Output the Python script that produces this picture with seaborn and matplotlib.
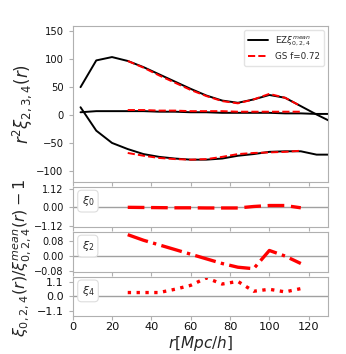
import numpy as np
import pandas as pd
import matplotlib
matplotlib.use("Agg")
import matplotlib.pyplot as plt
import seaborn as sns

# === DATA ===
r_ez = [4, 12, 20, 28, 36, 44, 52, 60, 68, 76, 84, 92, 100, 108, 116, 124, 132]
ez_top = [50, 98, 104, 97, 86, 73, 60, 47, 35, 26, 22, 28, 36, 31, 16, 1, -13]
ez_mid = [5, 7, 7, 7, 7, 6, 6, 5, 5, 4, 4, 4, 4, 3, 3, 2, 2]
ez_bot = [14, -28, -50, -61, -70, -75, -78, -80, -80, -78, -73, -70, -66, -65, -65, -71, -71]

r_gs = [28, 36, 44, 52, 60, 68, 76, 84, 92, 100, 108, 116]
gs_top = [97, 85, 71, 58, 45, 34, 25, 21, 28, 38, 31, 16]
gs_mid = [9, 9, 8, 8, 7, 7, 7, 6, 6, 6, 6, 6]
gs_bot = [-68, -73, -77, -79, -80, -79, -75, -70, -68, -67, -66, -64]

ratio_0 = [0.0, -0.01, -0.02, -0.03, -0.03, -0.04, -0.04, -0.04, 0.05, 0.11, 0.11, -0.03]
ratio_2 = [0.115, 0.085, 0.06, 0.035, 0.01, -0.015, -0.04, -0.06, -0.068, 0.03, 0.0, -0.04]
ratio_4 = [0.3, 0.3, 0.3, 0.55, 0.85, 1.42, 0.95, 1.15, 0.4, 0.55, 0.35, 0.6]

sub_labels = [r"$\xi_0$", r"$\xi_2$", r"$\xi_4$"]
sub_ticks = [[-1.12, 0.0, 1.12], [-0.08, 0.0, 0.08], [-1.1, 0.0, 1.1]]
sub_ticklabels = [["\u22121.12", "0.00", "1.12"], ["\u22120.08", "0.00", "0.08"], ["\u22121.1", "0.0", "1.1"]]
sub_ylims = [(-1.2, 1.25), (-0.085, 0.13), (-1.5, 1.5)]
sub_styles = [(0, (5, 2)), "-.", ":"]

sns.set_style("white")
plt.rcParams.update({
    "axes.edgecolor": "#b0b0b0",
    "xtick.color": "#b0b0b0",
    "ytick.color": "#b0b0b0",
    "xtick.labelcolor": "#111111",
    "ytick.labelcolor": "#111111",
    "xtick.bottom": True,
    "ytick.left": True,
    "xtick.major.size": 3,
    "ytick.major.size": 3,
})

fig = plt.figure(figsize=(3.46, 3.54), dpi=100)
L, W = 0.210, 0.739
ax = fig.add_axes([L, 0.486, W, 0.441])

ez_df = pd.DataFrame({"r": r_ez * 3,
                      "v": ez_top + ez_mid + ez_bot,
                      "c": ["top"] * 17 + ["mid"] * 17 + ["bot"] * 17})
gs_df = pd.DataFrame({"r": r_gs * 3,
                      "v": gs_top + gs_mid + gs_bot,
                      "c": ["top"] * 12 + ["mid"] * 12 + ["bot"] * 12})

for i, comp in enumerate(["top", "mid", "bot"]):
    sns.lineplot(data=ez_df[ez_df["c"] == comp], x="r", y="v", ax=ax, color="black",
                 lw=1.4, label=r"EZ$\xi^{mean}_{0,2,4}$" if i == 0 else None)
for i, comp in enumerate(["top", "mid", "bot"]):
    sns.lineplot(data=gs_df[gs_df["c"] == comp], x="r", y="v", ax=ax, color="red",
                 lw=1.4, linestyle="--", label="GS f=0.72" if i == 0 else None)

ax.set_xlim(0, 130)
ax.set_ylim(-120, 160)
ax.set_yticks([-100, -50, 0, 50, 100, 150])
ax.set_yticklabels(["\u2212100", "\u221250", "0", "50", "100", "150"], fontsize=7.2)
ax.set_xticks([0, 20, 40, 60, 80, 100, 120])
ax.set_xticklabels([])
ax.set_xlabel("")
ax.set_ylabel(r"$r^2\xi_{2,3,4}(r)$", fontsize=12, labelpad=2)
ax.legend(loc="upper right", fontsize=6.3, handlelength=2.2, frameon=True,
          edgecolor="#dddddd", borderpad=0.5, labelspacing=0.5)

bottoms = [0.359, 0.232, 0.107]
heights = [0.113, 0.113, 0.111]
for k, ratio in enumerate([ratio_0, ratio_2, ratio_4]):
    sax = fig.add_axes([L, bottoms[k], W, heights[k]])
    sax.axhline(0, color="#a0a0a0", lw=1.0)
    sns.lineplot(x=r_gs, y=ratio, ax=sax, color="red", lw=2.4, linestyle=sub_styles[k])
    sax.set_xlim(0, 130)
    sax.set_ylim(*sub_ylims[k])
    sax.set_yticks(sub_ticks[k])
    sax.set_yticklabels(sub_ticklabels[k], fontsize=7 if k < 2 else 8)
    sax.set_xticks([0, 20, 40, 60, 80, 100, 120])
    if k < 2:
        sax.set_xticklabels([])
    else:
        sax.set_xticklabels(["0", "20", "40", "60", "80", "100", "120"], fontsize=8.2)
        sax.tick_params(axis="x", pad=1.2)
        sax.set_xlabel(r"$r[Mpc/h]$", fontsize=11)
        sax.xaxis.set_label_coords(0.5, -0.45)
    sax.text(0.035, 0.82, sub_labels[k], transform=sax.transAxes, fontsize=8,
             va="top", ha="left",
             bbox=dict(boxstyle="round,pad=0.35", fc="white", ec="#dddddd", lw=0.8))

fig.text(0.063, 0.272, r"$\xi_{0,2,4}(r)/\xi^{mean}_{0,2,4}(r)-1$", rotation=90,
         ha="center", va="center", fontsize=11.5)

fig.savefig("out.png", dpi=100)
